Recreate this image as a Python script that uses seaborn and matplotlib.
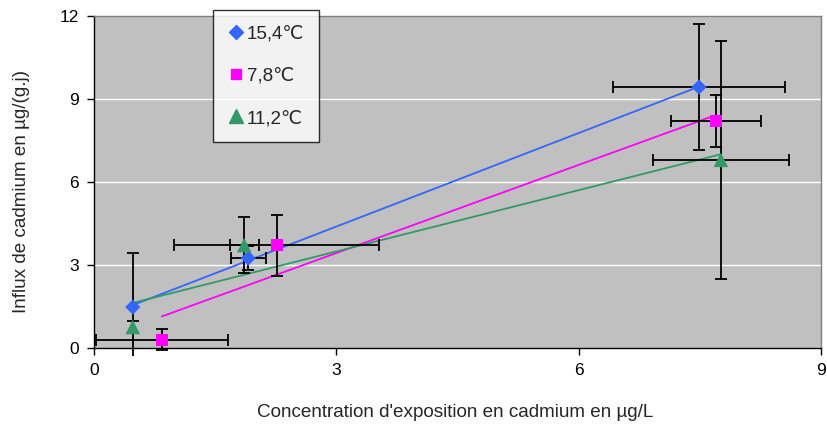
import matplotlib
matplotlib.use("Agg")
import matplotlib.pyplot as plt
import numpy as np
import seaborn as sns

# Influx de cadmium vs concentration, three temperatures
labels = ["15,4℃", "7,8℃", "11,2℃"]
colors = ["#3366FF", "#FF00FF", "#339966"]
markers = ["D", "s", "^"]
msizes = [60, 75, 110]

x_154 = [0.48, 1.91, 7.49]
y_154 = [1.48, 3.25, 9.43]
xerr_154 = [0.0, 0.22, 1.06]
yerr_154 = [1.95, 0.43, 2.27]

x_78 = [0.84, 2.26, 7.70]
y_78 = [0.29, 3.72, 8.20]
xerr_78 = [0.82, 1.27, 0.56]
yerr_78 = [0.38, 1.10, 0.94]

x_112 = [0.48, 1.86, 7.76]
y_112 = [0.76, 3.72, 6.80]
xerr_112 = [0.0, 0.18, 0.84]
yerr_112 = [0.22, 1.00, 4.30]

series = [(x_154, y_154, xerr_154, yerr_154),
          (x_78, y_78, xerr_78, yerr_78),
          (x_112, y_112, xerr_112, yerr_112)]

sns.set_theme(style="white")
plt.rcParams["font.family"] = ["Liberation Sans", "DejaVu Sans"]

fig = plt.figure(figsize=(8.27, 4.25), dpi=100)
ax = fig.add_axes([94 / 827, 1 - 348 / 425, 727 / 827, 332 / 425])
ax.set_facecolor("#C0C0C0")

for y in [3, 6, 9]:
    ax.axhline(y, color="white", lw=1, zorder=0)

# linear trendlines
for (xs, ys, _, _), c in zip(series, colors):
    sns.regplot(x=np.array(xs), y=np.array(ys), ax=ax, scatter=False, ci=None,
                truncate=True, line_kws={"color": c, "lw": 1.3, "zorder": 2})

# error bars (clipped slightly below the plot area, like the original)
clip = plt.Rectangle((0, -0.025), 1, 1.05, transform=ax.transAxes,
                     fill=False, visible=False)
ax.add_patch(clip)
for xs, ys, xe, ye in series:
    eb = ax.errorbar(xs, ys, xerr=xe, yerr=ye, fmt="none", ecolor="black",
                     elinewidth=1.3, capsize=4.5, capthick=1.3, zorder=3)
    for art in eb.lines[1] + eb.lines[2]:
        art.set_clip_path(clip)

# markers
handles = []
for (xs, ys, _, _), c, m, s, lab in zip(series, colors, markers, msizes, labels):
    sns.scatterplot(x=xs, y=ys, ax=ax, color=c, marker=m, s=s,
                    edgecolor="none", zorder=4, label=lab, legend=False)
    handles.append(plt.Line2D([], [], ls="none", marker=m, color=c,
                              markersize=np.sqrt(s) * 0.9, label=lab))

ax.set_xlim(0, 9)
ax.set_ylim(0, 12)
ax.set_xticks([0, 3, 6, 9])
ax.set_yticks([0, 3, 6, 9, 12])
ax.tick_params(direction="out", length=5, width=1, colors="black",
               labelsize=12.5, bottom=True, left=True, pad=6)
for side in ["left", "bottom"]:
    ax.spines[side].set_color("black")
    ax.spines[side].set_linewidth(1)
for side in ["top", "right"]:
    ax.spines[side].set_color("#808080")
    ax.spines[side].set_linewidth(1)

ax.set_xlabel("Concentration d'exposition en cadmium en µg/L", fontsize=13.6)
ax.set_ylabel("Influx de cadmium en µg/(g.j)", fontsize=13.6)
ax.xaxis.set_label_coords(0.497, -0.168)
ax.yaxis.set_label_coords(-0.088, 0.47)

leg = fig.legend(handles=handles, loc="upper left",
                 bbox_to_anchor=(213 / 827, 1 - 10 / 425), fontsize=13.5,
                 frameon=True, fancybox=False, edgecolor="black",
                 labelspacing=1.35, handletextpad=0.2, handlelength=0.8,
                 borderpad=0.8, borderaxespad=0)
leg.get_frame().set_linewidth(1)
leg.get_frame().set_facecolor("white")

fig.savefig("out.png", dpi=100)
